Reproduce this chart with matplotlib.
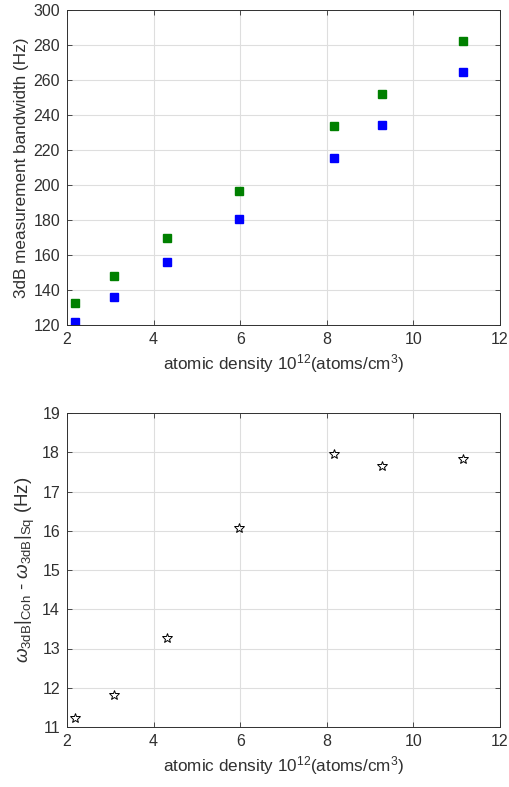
import matplotlib
matplotlib.use('Agg')
import matplotlib.pyplot as plt
from matplotlib import rcParams

rcParams['font.family'] = ['Liberation Sans', 'DejaVu Sans']
rcParams['mathtext.fontset'] = 'custom'
rcParams['mathtext.rm'] = 'Liberation Sans'
rcParams['mathtext.it'] = 'Liberation Sans:italic'

# atomic density (10^12 atoms/cm^3)
density = [2.18, 3.08, 4.31, 5.97, 8.17, 9.27, 11.14]
# 3dB bandwidth (Hz)
bw_coh = [132.6, 147.8, 169.5, 196.7, 233.9, 251.8, 282.3]
bw_sq = [121.8, 135.8, 156.0, 180.6, 215.6, 234.5, 264.4]
# difference (Hz)
bw_diff = [11.22, 11.81, 13.27, 16.06, 17.95, 17.66, 17.82]

x_ticks = [2, 4, 6, 8, 10, 12]
top_yticks = list(range(120, 301, 20))
bot_yticks = list(range(11, 20))

axis_col = '#303030'
grid_col = '#dedede'
tick_fs = 11.5
label_fs = 12.3

fig = plt.figure(figsize=(5.10, 7.87), dpi=100)
ax1 = fig.add_axes([67 / 510, 1 - 325 / 787, 433 / 510, 315 / 787])
ax2 = fig.add_axes([67 / 510, 1 - 727 / 787, 433 / 510, 314 / 787])


def style_axes(ax, yticks):
    ax.set_xlim(2, 12)
    ax.set_ylim(yticks[0], yticks[-1])
    ax.set_xticks(x_ticks)
    ax.set_yticks(yticks)
    ax.grid(True, color=grid_col, linewidth=0.8)
    ax.set_axisbelow(True)
    ax.tick_params(direction='in', length=3.5, width=0.6, colors=axis_col,
                   top=True, right=True, labelsize=tick_fs, pad=5)
    for sp in ax.spines.values():
        sp.set_color(axis_col)
        sp.set_linewidth(0.7)
    ax.set_xlabel(r'atomic density 10$^{12}$(atoms/cm$^{3}$)', color=axis_col,
                  fontsize=label_fs, labelpad=4)


ax1.plot(density, bw_coh, 's', color='#008000', markersize=6, markeredgecolor='#008000')
ax1.plot(density, bw_sq, 's', color='#0000ff', markersize=6, markeredgecolor='#0000ff')
style_axes(ax1, top_yticks)
ax1.set_ylabel('3dB measurement bandwidth (Hz)', color=axis_col, fontsize=label_fs, labelpad=3)

ax2.plot(density, bw_diff, '*', color='black', markerfacecolor='none',
         markersize=7, markeredgewidth=0.7)
style_axes(ax2, bot_yticks)
ax2.set_ylabel(r'$\omega_{\rm 3dB}|_{\rm Coh}$ - $\omega_{\rm 3dB}|_{\rm Sq}$ (Hz)',
               color=axis_col, fontsize=13.5, labelpad=4)

fig.savefig('out.png', dpi=100)
